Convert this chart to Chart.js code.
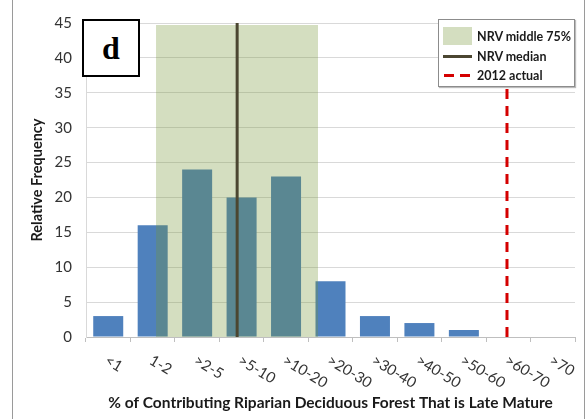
<!DOCTYPE html>
<html>
<head>
<meta charset="utf-8">
<script src="https://cdn.jsdelivr.net/npm/chart.js@4.4.1/dist/chart.umd.min.js"></script>
<style>
  body { margin: 0; background: #fff; }
  #wrap { position: relative; width: 586px; height: 419px; }
  #frameL { position: absolute; left: 12px; top: 0; width: 0; height: 419px; border-left: 1px solid #9a9a9a; }
  #frameR { position: absolute; left: 584px; top: 0; width: 0; height: 419px; border-left: 1px solid #9a9a9a; }
  #dbox {
    position: absolute; left: 82px; top: 19px; width: 54px; height: 54px;
    border: 2px solid #000; background: #fff;
    font: bold 32px "Liberation Serif", serif; text-align: center; line-height: 54px;
  }
  #legend {
    position: absolute; left: 438px; top: 19px; width: 135px; height: 66px;
    border: 1px solid #8c8c8c; background: #fff; box-shadow: 1px 1px 1px #bbb;
    font: bold 12.5px Lato, sans-serif; color: #1a1a1a; white-space: nowrap;
  }
  .row { position: absolute; left: 4px; height: 18px; display: flex; align-items: center; }
  .sw { width: 29px; height: 18px; margin-right: 5px; position: relative; flex: none; }
</style>
</head>
<body>
<div id="wrap">
  <canvas id="myChart" width="586" height="419"></canvas>
  <div id="frameL"></div>
  <div id="frameR"></div>
  <div id="dbox">d</div>
  <div id="legend">
    <div class="row" style="top:7px"><div class="sw" style="background:#d4dec0"></div>NRV middle 75%</div>
    <div class="row" style="top:27px"><div class="sw"><div style="position:absolute;left:0;top:8px;width:29px;height:3px;background:#4b4631"></div></div>NRV median</div>
    <div class="row" style="top:46px"><div class="sw">
      <div style="position:absolute;left:1px;top:8px;width:10px;height:3px;background:#d40000"></div>
      <div style="position:absolute;left:17px;top:8px;width:10px;height:3px;background:#d40000"></div>
    </div>2012 actual</div>
  </div>
</div>
<script>
const categories = ['<1', '1-2', '>2-5', '>5-10', '>10-20', '>20-30', '>30-40', '>40-50', '>50-60', '>60-70', '>70'];
const frequency = [3, 16, 24, 20, 23, 8, 3, 2, 1, 0, 0];
// NRV range and markers, in category-index units
const nrvMiddle = [1.075, 4.72];
const nrvTop = 44.7;
const nrvMedian = 2.9;
const actual2012 = 8.97;
const yTicks = { min: 0, max: 45, step: 5 };

const blue = '#4f81bd';

const rotatedLabels = {
  id: 'rotatedLabels',
  afterDraw(chart) {
    const xs = chart.scales.x;
    const ctx = chart.ctx;
    ctx.save();
    ctx.font = '15px Lato';
    ctx.fillStyle = '#333';
    ctx.textAlign = 'left';
    ctx.textBaseline = 'middle';
    categories.forEach((c, i) => {
      const px = xs.getPixelForValue(i);
      ctx.save();
      ctx.translate(px - 2, xs.top + 22);
      ctx.rotate(31 * Math.PI / 180);
      ctx.fillText(c, 0, 0);
      ctx.restore();
    });
    ctx.restore();
  }
};

const ctx = document.getElementById('myChart').getContext('2d');
const myChart = new Chart(ctx, {
  data: {
    labels: categories,
    datasets: [
      {
        type: 'line', label: '2012 actual', xAxisID: 'x2', order: 0,
        data: [{ x: actual2012, y: yTicks.min }, { x: actual2012, y: yTicks.max }],
        borderColor: '#d40000', borderWidth: 3, borderDash: [10, 7], pointRadius: 0, fill: false
      },
      {
        type: 'line', label: 'NRV median', xAxisID: 'x2', order: 1,
        data: [{ x: nrvMedian, y: yTicks.min }, { x: nrvMedian, y: yTicks.max }],
        borderColor: '#4b4631', borderWidth: 3, pointRadius: 0, fill: false
      },
      {
        type: 'line', label: 'NRV middle 75%', xAxisID: 'x2', order: 2,
        data: [{ x: nrvMiddle[0], y: nrvTop }, { x: nrvMiddle[1], y: nrvTop }],
        borderWidth: 0, pointRadius: 0, fill: 'origin',
        backgroundColor: 'rgba(116,148,52,0.31)'
      },
      {
        type: 'bar', label: 'Frequency', xAxisID: 'x', order: 3,
        data: frequency, backgroundColor: blue,
        grouped: false,
        barPercentage: 0.675, categoryPercentage: 1
      }
    ]
  },
  options: {
    responsive: false,
    animation: false,
    devicePixelRatio: 1,
    layout: { padding: { left: 0, right: 11, top: 17, bottom: 0 } },
    plugins: { legend: { display: false }, tooltip: { enabled: false } },
    scales: {
      x: {
        type: 'category',
        offset: true,
        grid: { drawOnChartArea: false, drawTicks: true, tickLength: 5, offset: true, color: '#bfbfbf' },
        border: { color: '#bfbfbf' },
        ticks: { display: false },
        title: {
          display: true,
          text: '% of Contributing Riparian Deciduous Forest That is Late Mature',
          font: { family: 'Lato', size: 15.5, weight: 'bold' },
          color: '#1a1a1a',
          padding: { top: 0, bottom: 7 }
        },
        afterFit(scale) { scale.height = 82; }
      },
      x2: {
        type: 'linear', display: false, min: -0.5, max: 10.5
      },
      y: {
        min: yTicks.min, max: yTicks.max,
        ticks: { stepSize: yTicks.step, font: { family: 'Lato', size: 15 }, color: '#333', padding: 14 },
        grid: { color: '#d9d9d9', drawTicks: false },
        border: { color: '#d9d9d9' },
        title: {
          display: true,
          text: 'Relative Frequency',
          font: { family: 'Lato', size: 14.5, weight: 'bold' },
          color: '#1a1a1a',
          padding: { top: 29, bottom: 0 }
        },
        afterFit(scale) { scale.width = 86; }
      }
    }
  },
  plugins: [rotatedLabels]
});
</script>
</body>
</html>
